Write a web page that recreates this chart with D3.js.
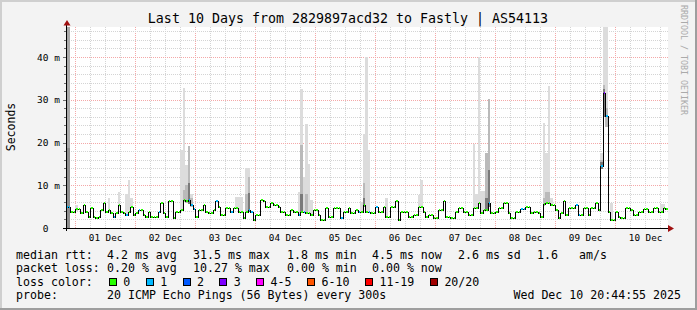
<!DOCTYPE html>
<html><head><meta charset="utf-8">
<script src="https://cdn.jsdelivr.net/npm/d3@7"></script>
<style>
html,body{margin:0;padding:0;background:#f3f3f3;}
svg{display:block;}
text{font-family:"DejaVu Sans Mono",monospace;white-space:pre;}
</style></head><body>
<svg id="c" width="697" height="310" xml:space="preserve"></svg>
<script>
// ---------------- data ----------------
const title = "Last 10 Days from 2829897acd32 to Fastly | AS54113";
const yAxisTitle = "Seconds";
const credit = "RRDTOOL / TOBI OETIKER";
const startTime = Date.UTC(2025,10,30,20,44,55);
const endTime   = Date.UTC(2025,11,10,20,44,55);
const firstStep = Date.UTC(2025,10,30,20,0,0);   // hourly consolidated steps
const yTicks = [0,10,20,30,40];

// median rtt per hour (ms)
const median = [5.0,5.0,3.8,3.8,4.4,4.4,3.4,5.3,3.8,2.6,
 4.6,2.6,2.3,2.6,4.2,5.8,3.8,4.2,3.4,2.6,
 3.4,5.4,3.8,3.6,3.0,3.8,5.0,3.0,3.4,4.2,
 4.2,3.0,2.65,3.8,2.65,2.65,2.65,3.8,5.8,3.4,
 2.65,6.2,6.2,2.4,3.8,3.8,4.2,6.55,6.2,6.5,
 5.4,4.4,2.65,4.2,4.2,5.4,3.8,3.6,3.4,4.2,
 6.2,5.0,3.0,3.0,4.6,4.6,3.8,4.6,4.6,3.8,
 3.8,2.3,3.8,4.2,3.8,1.9,3.0,3.0,6.55,6.2,
 5.0,5.0,5.9,5.4,5.4,5.0,3.8,3.8,3.0,3.0,
 4.2,3.8,3.8,3.0,3.8,3.8,3.4,3.4,3.0,4.2,
 4.2,3.0,1.9,1.9,4.6,2.65,2.65,4.6,4.6,4.6,
 2.3,3.8,3.8,4.6,3.4,3.4,4.2,3.8,3.8,5.4,
 3.8,3.8,3.4,3.4,4.8,3.8,3.8,5.0,2.65,2.65,
 5.0,5.0,6.2,1.9,3.8,3.8,3.8,2.65,2.65,3.0,
 3.0,5.0,5.0,3.8,2.65,3.0,3.0,2.3,2.3,4.2,
 4.2,6.2,2.65,2.65,2.3,2.3,3.8,4.6,4.6,3.8,
 3.8,3.0,3.0,4.6,4.6,5.8,3.4,4.2,4.2,5.8,
 3.4,3.4,3.8,4.6,4.6,5.9,5.9,3.4,2.3,2.3,
 3.8,3.8,4.4,4.4,5.0,5.0,3.4,3.8,3.8,3.4,
 2.65,5.6,5.8,5.8,5.4,5.4,4.2,2.3,3.4,6.2,
 3.0,4.6,4.6,4.6,5.4,3.0,3.0,4.6,4.6,3.0,
 4.6,4.6,5.8,4.1,14.6,31.5,26.3,3.8,1.8,1.9,
 3.8,2.65,2.3,2.3,4.6,4.6,4.2,3.0,3.0,3.8,
 3.8,4.4,4.4,3.8,3.8,4.6,4.6,3.8,3.8,4.6,
 4.5];

// lost pings (of 20) per hour
const loss = [1,1,0,0,0,0,0,0,0,0, 0,0,0,0,0,0,0,0,0,1, 0,0,0,0,1,0,0,0,0,1,
 0,0,0,0,0,0,0,1,0,0, 0,0,0,0,0,0,0,0,0,1, 1,1,0,0,0,0,0,0,0,0,
 1,0,0,0,0,0,1,0,0,0, 0,0,0,1,1,0,0,0,0,0, 0,0,0,0,0,0,0,0,0,0,
 0,0,0,1,0,1,0,0,0,0, 0,0,0,0,0,0,0,0,0,0, 1,0,0,0,0,0,0,1,0,0,
 0,1,0,0,1,0,0,0,0,0, 0,0,0,0,0,0,0,0,0,0, 0,0,0,0,0,0,0,0,0,0,
 0,0,0,0,0,0,0,0,0,0, 0,0,0,0,0,0,0,0,0,1, 0,0,0,0,0,0,0,0,0,0,
 0,0,1,1,0,0,0,0,0,0, 0,0,0,0,0,0,0,0,0,0, 0,0,0,0,1,1,0,0,0,0,
 0,0,0,0,1,3,1,0,0,0, 0,0,0,0,0,0,0,0,0,0, 0,0,0,0,0,0,0,0,0,0,
 0];

// smoke (ping spread) for hours where it is visible
const smokeIdx  = [0,1,4,17,21,24,25,26,46,47,48,49,50,68,69,70,72,73,93,94,95,96,97,98,
  118,119,120,121,128,141,142,163,164,165,166,167,168,169,191,192,193,194,214,215,216,218,238,239];
const smokeTop  = [47.5,47.5,5.4,7.0,8.5,8.0,11.2,7.0,18.2,32.8,14.7,19.2,8.0,7.3,7.3,7.3,14.0,14.0,8.5,32.5,12.0,24.3,15.0,6.5,
  6.0,22.0,40.0,18.3,7.0,7.7,11.2,19.6,8.0,40.0,8.6,8.6,17.5,30.2,24.6,17.5,33.3,7.0,17.5,47.5,47.5,5.9,5.5,5.5];
const smokeMid  = [47.5,47.5,0,0,0,0,0,0,0,9.0,10.0,19.2,7.0,0,0,0,8.0,12.0,0,19.4,0,8.0,0,0,
  0,10.5,0,0,0,0,0,0,0,0,0,0,17.5,30.2,7.0,8.5,8.5,0,16.0,33.5,28.0,0,0,0];
const smokeDark = [18.7,18.7,0,0,0,0,0,0,0,0,0,10.5,0,0,0,0,0,8.2,0,8.0,0,0,0,0,
  0,7.0,0,0,0,0,0,0,0,0,0,0,7.0,13.6,0,0,0,0,15.5,32.5,0,0,0,0];
const smokeLow  = [0,0,4.0,4.0,5.0,3.0,3.6,4.8,4.0,6.0,5.8,5.5,5.0,4.4,3.6,3.6,3.6,3.8,2.8,3.5,3.6,3.2,3.2,2.8,
  3.6,5.0,3.6,3.6,2.5,4.8,4.8,4.4,4.4,5.5,3.2,4.0,4.0,5.0,5.2,5.5,5.5,5.2,13.8,26.0,23.7,1.8,3.6,4.4];

const lossLabels = ["0","1","2","3","4-5","6-10","11-19","20/20"];
const lossUpper  = [0,1,2,3,5,10,19,20];
const lossColors = ["#26ff00","#00b8ff","#0059ff","#7e00ff","#ff00ff","#ff5500","#ff0000","#a00000"];

const rttLabel = "median rtt:";
const rttStats = ["4.2 ms avg","31.5 ms max","1.8 ms min","4.5 ms now","2.6 ms sd","1.6","am/s"];
const lossLabel = "packet loss:";
const lossStats = ["0.20 % avg","10.27 % max","0.00 % min","0.00 % now"];
const lossColorLabel = "loss color:";
const probeLabel = "probe:";
const probeText = "20 ICMP Echo Pings (56 Bytes) every 300s";
const stampText = "Wed Dec 10 20:44:55 2025";

// ---------------- drawing ----------------
const W = 697, H = 310;
const L = 67, R = 667, T = 27, B = 228;
const svg = d3.select("#c");
const HOUR = 3600e3;
const stepTime = i => new Date(firstStep + i*HOUR);

const x = d3.scaleUtc().domain([new Date(startTime), new Date(endTime)]).range([L, R]);
const y = d3.scaleLinear().domain([0, (B-T)/ (B-57) * 40]).range([B, T]);

svg.append("rect").attr("width",W).attr("height",H).attr("fill","#f3f3f3");
// 3D frame
svg.append("rect").attr("x",0).attr("y",0).attr("width",W).attr("height",2).attr("fill","#cfcfcf");
svg.append("rect").attr("x",0).attr("y",0).attr("width",2).attr("height",H).attr("fill","#cfcfcf");
svg.append("rect").attr("x",0).attr("y",H-2).attr("width",W).attr("height",2).attr("fill","#9e9e9e");
svg.append("rect").attr("x",W-2).attr("y",0).attr("width",2).attr("height",H).attr("fill","#9e9e9e");

// canvas
svg.append("rect").attr("x",L).attr("y",T).attr("width",R-L+1).attr("height",B-T).attr("fill","#ffffff");

// grid
const g = svg.append("g").attr("shape-rendering","crispEdges");
const vt = d3.utcHour.every(6).range(new Date(startTime), new Date(endTime));
vt.forEach(t => {
  const xx = Math.round(x(t)) + 0.5;
  const major = t.getUTCHours() === 0;
  g.append("line").attr("x1",xx).attr("x2",xx).attr("y1",T).attr("y2",B)
    .attr("stroke", major ? "#f4a8a8" : "#d4d4d4").attr("stroke-dasharray","1,1");
});
d3.range(2, 47, 2).forEach(v => {
  const yy = Math.round(y(v)) + 0.5;
  const major = v % 10 === 0;
  g.append("line").attr("x1",L).attr("x2",R+1).attr("y1",yy).attr("y2",yy)
    .attr("stroke", major ? "#f4a8a8" : "#d4d4d4").attr("stroke-dasharray","1,1");
  g.append("line").attr("x1", major ? 63 : 64).attr("x2",L).attr("y1",yy).attr("y2",yy)
    .attr("stroke","#707070");
});

// plot clip
svg.append("clipPath").attr("id","pc").append("rect")
  .attr("x",L-1).attr("y",T).attr("width",R-L+2).attr("height",B-T);
const plot = svg.append("g").attr("clip-path","url(#pc)").attr("shape-rendering","crispEdges");

// smoke
const px = t => Math.round(x(t));
const py = v => Math.round(y(v));
smokeIdx.forEach((i, k) => {
  const x0 = px(stepTime(i)), x1 = px(stepTime(i+1));
  const lo = smokeLow[k];
  const first = i < 2;
  const bands = [[smokeTop[k], "#dcdcdc"], [smokeMid[k], first ? "#a9a9a9" : "#bababa"], [smokeDark[k], first ? "#8e8e8e" : "#7a7a7a"]];
  bands.forEach(([top, col]) => {
    if (top <= lo) return;
    plot.append("rect").attr("x",x0).attr("width",x1-x0)
      .attr("y",py(top)).attr("height",py(lo)-py(top)).attr("fill", col);
  });
});

// median line
const pts = median.map((v,i) => [stepTime(i), v]);
pts.push([stepTime(median.length), median[median.length-1]]);
plot.append("path")
  .attr("d", d3.line().curve(d3.curveStepAfter).x(d => px(d[0]) + 0.5).y(d => py(d[1]) + 0.5)(pts))
  .attr("fill","none").attr("stroke","#000").attr("stroke-width",1);

// loss colour marks (drawn over the line)
const lossColor = n => lossColors[lossUpper.findIndex(u => n <= u)];
median.forEach((v, i) => {
  const x0 = px(stepTime(i)) + 1, x1 = px(stepTime(i+1));
  plot.append("rect").attr("x",x0).attr("width",Math.max(1, x1-x0))
    .attr("y",py(v)-1).attr("height",2).attr("fill",lossColor(loss[i]));
});

// axes
const ax = svg.append("g").attr("shape-rendering","crispEdges");
ax.append("line").attr("x1",63).attr("x2",R+2).attr("y1",B+0.5).attr("y2",B+0.5).attr("stroke","#000");
ax.append("line").attr("x1",66.5).attr("x2",66.5).attr("y1",24).attr("y2",B+3).attr("stroke","#000");
svg.append("path").attr("d","M63.5,25.5 L70.5,25.5 L67,20 Z").attr("fill","#a01010");
svg.append("path").attr("d","M668,225 L668,232 L674,228.5 Z").attr("fill","#a01010");

// x labels at noon
const noons = d3.utcDay.range(new Date(startTime), new Date(endTime)).map(d => new Date(+d + 12*HOUR))
  .filter(d => d < new Date(endTime));
const xAxis = d3.axisBottom(x).tickValues(noons).tickFormat(d3.utcFormat("%d %b")).tickSize(0).tickPadding(0);
const xg = svg.append("g").attr("transform",`translate(0,${B+13})`).call(xAxis);
xg.select(".domain").remove();
xg.selectAll("text").attr("dy",0).attr("font-family","DejaVu Sans Mono").attr("font-size","9.3px").attr("fill","#000");

// y labels
const yAxis = d3.axisLeft(y).tickValues(yTicks).tickFormat(d => d === 0 ? "0  " : d + " m").tickSize(0).tickPadding(0);
const yg = svg.append("g").attr("transform",`translate(${60},0)`).call(yAxis);
yg.select(".domain").remove();
yg.selectAll("text").attr("dy","0.33em").attr("font-family","DejaVu Sans Mono").attr("font-size","9.5px").attr("fill","#000")
  .attr("xml:space","preserve").style("white-space","pre");

// titles
svg.append("text").attr("x",348).attr("y",23).attr("text-anchor","middle")
  .attr("font-size","13.3px").attr("fill","#000").text(title);
svg.append("text").attr("transform","translate(15,127) rotate(-90)").attr("text-anchor","middle")
  .attr("font-size","11.5px").attr("fill","#000").text(yAxisTitle);
svg.append("text").attr("transform","translate(681,5) rotate(90)")
  .attr("font-size","8.3px").attr("fill","#aaaaaa").text(credit);

// legend
const LF = "11.6px";
const leg = svg.append("g").attr("font-size",LF).attr("fill","#000");
const rowY = [258.5, 272, 285.7, 299.3];
const rttX = [107,193,287,372,458,537,579];
leg.append("text").attr("x",16).attr("y",rowY[0]).text(rttLabel);
rttStats.forEach((s,k) => leg.append("text").attr("x",rttX[k]).attr("y",rowY[0]).text(s));
leg.append("text").attr("x",16).attr("y",rowY[1]).text(lossLabel);
lossStats.forEach((s,k) => leg.append("text").attr("x",rttX[k]).attr("y",rowY[1]).text(s));
leg.append("text").attr("x",16).attr("y",rowY[2]).text(lossColorLabel);
const CW = 7.03;
let cur = 109;
lossLabels.forEach((lab,k) => {
  leg.append("rect").attr("x",cur+0.5).attr("y",278.5).attr("width",7).attr("height",7)
    .attr("fill",lossColors[k]).attr("stroke","#000").attr("stroke-width",1).attr("shape-rendering","crispEdges");
  const tx = cur + 14.3;
  leg.append("text").attr("x",tx).attr("y",rowY[2]).text(lab);
  cur = tx + lab.length*CW + 15.5;
});
leg.append("text").attr("x",16).attr("y",rowY[3]).text(probeLabel);
leg.append("text").attr("x",107).attr("y",rowY[3]).text(probeText);
leg.append("text").attr("x",681).attr("y",rowY[3]).attr("text-anchor","end").text(stampText);
</script>
</body></html>
